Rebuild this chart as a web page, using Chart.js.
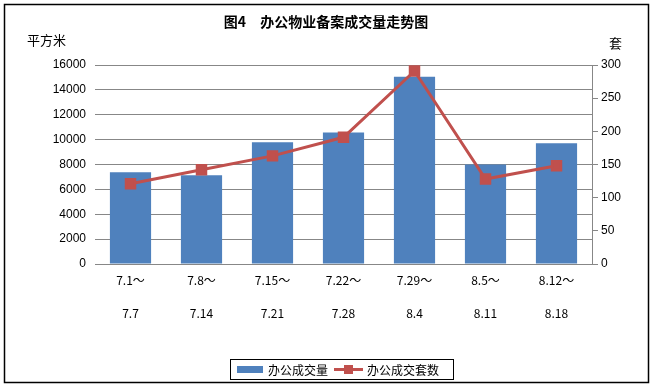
<!DOCTYPE html>
<html>
<head>
<meta charset="utf-8">
<script src="https://cdn.jsdelivr.net/npm/chart.js@4/dist/chart.umd.min.js"></script>
<style>
  html, body { margin: 0; padding: 0; background: #fff; }
  #wrap { width: 653px; height: 386px; position: relative; }
</style>
</head>
<body>
<div id="wrap"><canvas id="c" width="653" height="386"></canvas></div>
<script>
// 图4 办公物业备案成交量走势图
const categories = [['7.1～', '7.7'], ['7.8～', '7.14'], ['7.15～', '7.21'], ['7.22～', '7.28'],
                    ['7.29～', '8.4'], ['8.5～', '8.11'], ['8.12～', '8.18']];
const areaValues = [7380, 7140, 9780, 10580, 15060, 8000, 9700];   // 办公成交量 (平方米)
const unitValues = [121, 142, 163, 191, 291, 128, 148];            // 办公成交套数 (套)
const leftTicks = [0, 2000, 4000, 6000, 8000, 10000, 12000, 14000, 16000];
const rightTicks = [0, 50, 100, 150, 200, 250, 300];

const BLUE = '#4F81BD', RED = '#C0504D', GRID = '#878787';
const NUM_FONT = 'Liberation Sans, Arial, sans-serif';
const CJK_FONT = '"Noto Sans CJK SC", "Noto Sans", sans-serif';

// frame, title, unit labels and the boxed legend
const decor = {
  id: 'decor',
  afterDraw(chart) {
    const ctx = chart.ctx;
    ctx.save();
    ctx.strokeStyle = '#000';
    ctx.lineWidth = 1.5;
    ctx.strokeRect(4.5, 4.5, 644, 378);

    ctx.fillStyle = '#000';
    ctx.textBaseline = 'middle';
    ctx.textAlign = 'center';
    ctx.font = 'bold 14px ' + CJK_FONT;
    ctx.fillText('图4　办公物业备案成交量走势图', 326, 22);

    ctx.font = '13px ' + CJK_FONT;
    ctx.textAlign = 'left';
    ctx.fillText('平方米', 27, 40);
    ctx.fillText('套', 609, 43);

    // legend
    ctx.lineWidth = 1;
    ctx.strokeStyle = '#000';
    ctx.strokeRect(230.5, 359.5, 223, 20);
    ctx.fillStyle = BLUE;
    ctx.fillRect(237, 366, 26, 7);
    ctx.fillStyle = '#000';
    ctx.font = '12px ' + CJK_FONT;
    ctx.fillText('办公成交量', 268, 370);
    ctx.strokeStyle = RED;
    ctx.lineWidth = 3;
    ctx.beginPath(); ctx.moveTo(334, 369.5); ctx.lineTo(363, 369.5); ctx.stroke();
    ctx.fillStyle = RED;
    ctx.fillRect(344, 365, 9, 9);
    ctx.fillStyle = '#000';
    ctx.fillText('办公成交套数', 367, 370);
    ctx.restore();
  }
};

new Chart(document.getElementById('c'), {
  data: {
    labels: categories,
    datasets: [
      {
        type: 'line', label: '办公成交套数', data: unitValues, yAxisID: 'y1',
        borderColor: RED, backgroundColor: RED, borderWidth: 3, tension: 0,
        pointStyle: 'rect', pointRadius: 6, pointBackgroundColor: RED, pointBorderColor: RED,
        order: 0,
      },
      {
        type: 'bar', label: '办公成交量', data: areaValues, yAxisID: 'y',
        backgroundColor: BLUE, borderWidth: 0, barPercentage: 0.58, categoryPercentage: 1,
        order: 1,
      },
    ],
  },
  options: {
    responsive: false,
    animation: false,
    layout: { padding: { top: 65, left: 0, right: 0, bottom: 0 } },
    plugins: { legend: { display: false }, tooltip: { enabled: false } },
    scales: {
      x: {
        grid: { display: false, drawTicks: false },
        border: { color: GRID },
        afterFit: (s) => { s.height = 122; },
        ticks: {
          color: '#000', padding: 0, maxRotation: 0, autoSkip: false,
          font: { family: CJK_FONT, size: 12, lineHeight: 2.75 },
        },
      },
      y: {
        position: 'left', min: 0, max: 16000,
        afterFit: (s) => { s.width = 95; },
        afterBuildTicks: (s) => { s.ticks = leftTicks.map(v => ({ value: v })); },
        grid: { color: GRID, drawTicks: false },
        border: { display: false },
        ticks: { color: '#000', padding: 9, font: { family: NUM_FONT, size: 12 }, callback: (v) => String(v) },
      },
      y1: {
        position: 'right', min: 0, max: 300,
        afterFit: (s) => { s.width = 61; },
        afterBuildTicks: (s) => { s.ticks = rightTicks.map(v => ({ value: v })); },
        grid: { drawOnChartArea: false, color: GRID, tickLength: 6 },
        border: { color: GRID },
        ticks: { color: '#000', padding: 3, font: { family: NUM_FONT, size: 12 }, callback: (v) => String(v) },
      },
    },
  },
  plugins: [decor],
});
</script>
</body>
</html>
